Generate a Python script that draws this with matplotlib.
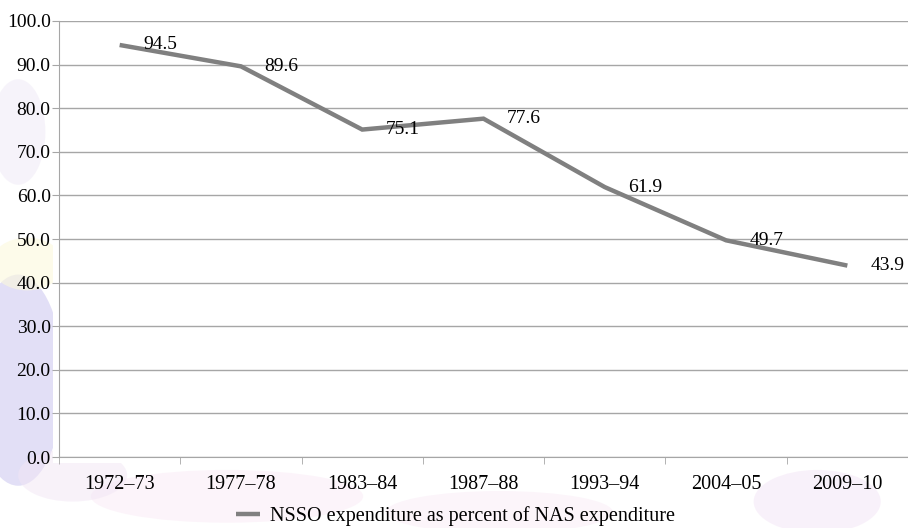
import numpy as np
import matplotlib.pyplot as plt
from matplotlib.patches import Ellipse, Rectangle

# NSSO expenditure as percent of NAS expenditure, by survey year
years = ['1972–73', '1977–78', '1983–84', '1987–88', '1993–94', '2004–05', '2009–10']
share = [94.5, 89.6, 75.1, 77.6, 61.9, 49.7, 43.9]
yticks = np.arange(0, 101, 10)

plt.rcParams['font.family'] = ['Liberation Serif', 'DejaVu Serif']

fig = plt.figure(figsize=(9.08, 5.28), dpi=100)

# faint washed-out backdrop around the plot panel
for (cx, cy, w, h, col, a) in [
    (0.02, 0.28, 0.10, 0.40, '#d6d2f3', 0.7),
    (0.03, 0.50, 0.08, 0.10, '#fcf9dc', 0.6),
    (0.02, 0.75, 0.06, 0.20, '#efe9f6', 0.5),
    (0.25, 0.06, 0.30, 0.10, '#faeaf6', 0.5),
    (0.55, 0.03, 0.25, 0.08, '#f8e6f4', 0.4),
    (0.90, 0.05, 0.14, 0.12, '#f3e4f6', 0.5),
    (0.08, 0.10, 0.12, 0.10, '#f2e6f5', 0.5),
]:
    fig.patches.append(Ellipse((cx, cy), w, h, transform=fig.transFigure,
                               facecolor=col, edgecolor='none', alpha=a, zorder=-2))
fig.patches.append(Rectangle((53 / 908, 65 / 528), 1 - 53 / 908, 1 - 65 / 528,
                             transform=fig.transFigure, facecolor='white',
                             edgecolor='none', zorder=-1))

ax = fig.add_axes([59 / 908, 71 / 528, 1 - 59 / 908, 436 / 528])
ax.patch.set_alpha(0)

x = np.arange(len(years))
line, = ax.plot(x, share, color='#808080', lw=3.2, solid_joinstyle='miter',
                solid_capstyle='butt', zorder=3,
                label='NSSO expenditure as percent of NAS expenditure')

for xi, v in zip(x, share):
    ax.annotate(f'{v:.1f}', (xi, v), xytext=(17, 0), textcoords='offset points',
                ha='left', va='center', fontsize=14, color='black', zorder=4)

ax.set_xlim(-0.5, len(years) - 0.5)
ax.set_ylim(0, 100)
ax.set_yticks(yticks)
ax.set_yticklabels([f'{t:.1f}' for t in yticks], fontsize=14)
ax.yaxis.grid(True, color='#a6a6a6', lw=1.0)
ax.set_axisbelow(True)

ax.set_xticks(x)
ax.set_xticklabels(years, fontsize=14.5)
ax.set_xticks(np.arange(len(years) + 1) - 0.5, minor=True)
ax.tick_params(axis='x', which='major', length=0, pad=13)
ax.tick_params(axis='x', which='minor', length=5, color='#a6a6a6', direction='out')
ax.tick_params(axis='y', length=5, color='#a6a6a6', pad=1)

for side in ['top', 'right']:
    ax.spines[side].set_visible(False)
ax.spines['left'].set_color('#a6a6a6')
ax.spines['bottom'].set_color('#a6a6a6')

fig.legend(handles=[line], loc='center', bbox_to_anchor=(0.502, 0.022),
           frameon=False, fontsize=14.5, handlelength=1.2, handletextpad=0.5)

fig.savefig('out.png', dpi=100)
